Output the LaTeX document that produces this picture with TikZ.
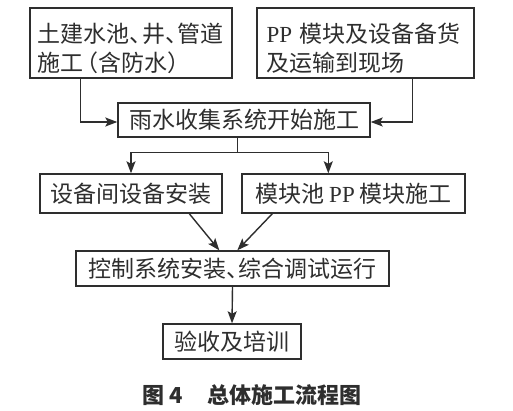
\documentclass[tikz,border=0pt]{standalone}
\usepackage{fontspec}
\newfontfamily\cjk{Noto Sans CJK SC}
\newfontfamily\lat{Liberation Serif}
\usetikzlibrary{arrows.meta,calc}
\definecolor{ink}{HTML}{2E2E2E}
\newcommand\dun{\makebox[0.55em][l]{、}}
\newcommand\lpar{\makebox[0.65em][r]{（}}
\newcommand\rpar{\makebox[0.65em][l]{）}}
\begin{document}
\begin{tikzpicture}[x=1pt,y=-1pt,
  txt/.style={text=ink,inner sep=0pt,font=\cjk\fontsize{23}{29}\selectfont},
  box/.style={txt,draw=ink,line width=1.4pt},
  tbox/.style={txt,align=left,text width=#1},
  arr/.style={draw=ink,line width=1.4pt,-{Stealth[length=12pt,width=9pt,inset=2.5pt]}},
  ln/.style={draw=ink,line width=1.4pt}]
\useasboundingbox[fill=white] (0,0) rectangle (513,411);
\node[box,minimum width=202pt,minimum height=70pt] (b1) at (131,43) {};
\node[tbox=186pt,anchor=west] (t1) at ([xshift=8pt,yshift=-5pt]b1.west) {土建水池\dun 井\dun 管道\\施工\lpar 含防水\rpar};
\node[box,minimum width=217pt,minimum height=70pt] (b2) at (365.5,43) {};
\node[tbox=200pt,anchor=west] (t2) at ([xshift=10pt,yshift=-5pt]b2.west) {{\lat PP} 模块及设备备货\\及运输到现场};
\node[box,minimum width=252pt,minimum height=34pt] (b3) at (244,120) {雨水收集系统开始施工};
\node[box,minimum width=182pt,minimum height=39pt] (b4) at (131,193.5) {设备间设备安装};
\node[box,minimum width=223pt,minimum height=39pt] (b5) at (353.5,193.5) {模块池 {\lat PP} 模块施工};
\node[box,minimum width=313pt,minimum height=35pt] (b6) at (232.5,268.5) {控制系统安装\dun 综合调试运行};
\node[box,minimum width=138pt,minimum height=35pt] (b7) at (232,341.5) {验收及培训};
\node[text=ink,font=\cjk\bfseries\fontsize{22}{26}\selectfont] (cap) at (252,395) {图 4\hspace{1.1em}总体施工流程图};
\draw[arr] ([xshift=51pt]b1.south west) |- ([yshift=-2pt]b3.west);
\draw[arr] ([xshift=156pt]b2.south west) |- ([yshift=-2pt]b3.east);
\draw[ln] ([xshift=120pt]b3.south west) -- ++(0,15) coordinate (j);
\draw[arr] (j) -| (b4.north);
\draw[arr] (j) -| ([xshift=87pt]b5.north west);
\draw[arr] ([xshift=150pt]b4.south west) -- ([xshift=144pt]b6.north west);
\draw[arr] ([xshift=31pt]b5.south west) -- ([xshift=162pt]b6.north west);
\draw[arr] (b6.south) -- (b7.north);
\end{tikzpicture}
\end{document}
